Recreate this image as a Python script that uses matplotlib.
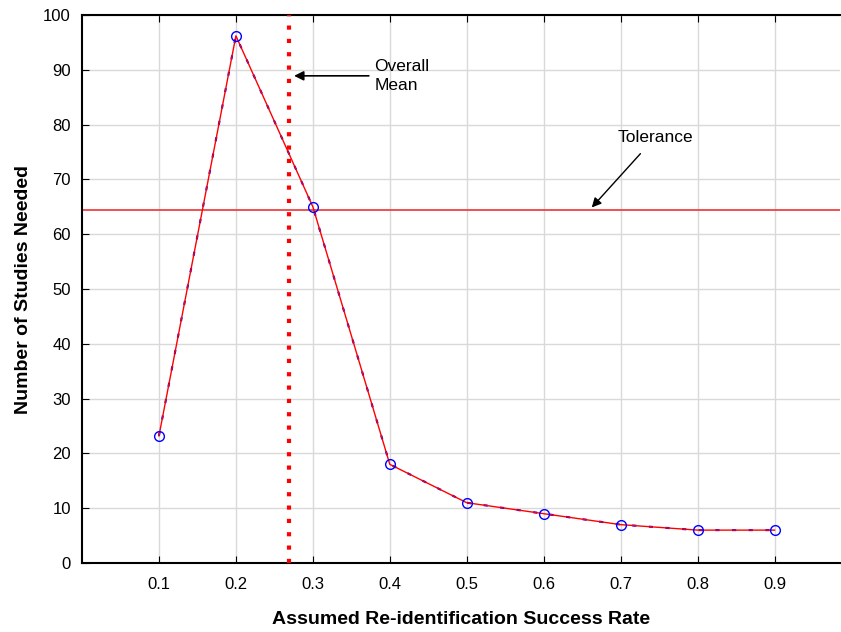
import matplotlib
matplotlib.use("Agg")
import matplotlib.pyplot as plt

rates = [0.1, 0.2, 0.3, 0.4, 0.5, 0.6, 0.7, 0.8, 0.9]
studies = [23.2, 96.2, 65, 18, 11, 9, 7, 6, 6]
tolerance = 64.5
overall_mean = 0.269
xticks = [0.1, 0.2, 0.3, 0.4, 0.5, 0.6, 0.7, 0.8, 0.9]
yticks = [0, 10, 20, 30, 40, 50, 60, 70, 80, 90, 100]

plt.rcParams['font.family'] = ['Liberation Sans', 'DejaVu Sans']

fig = plt.figure(figsize=(8.41, 6.32), dpi=100)
ax = fig.add_axes([82/841, 69/632, 758/841, 548/632])

ax.grid(True, color='#d9d9d9', linewidth=1)
ax.set_axisbelow(True)

ax.plot(rates, studies, color='blue', linestyle=(0, (2, 6)), linewidth=1.5, zorder=2)
ax.plot(rates, studies, color='red', linewidth=1.0, zorder=3)
ax.plot(rates, studies, linestyle='none', marker='o', markersize=7,
        markerfacecolor='none', markeredgecolor='blue', markeredgewidth=1, zorder=4)

ax.axhline(tolerance, color='#ee3333', linewidth=1.2, zorder=2)
ax.axvline(overall_mean, color='red', linestyle=(0, (1, 2.2)), linewidth=3, zorder=3)

ax.annotate('Overall\nMean', xy=(overall_mean + 0.003, 88.9), xytext=(0.380, 88.9),
            fontsize=12.5, va='center', ha='left', linespacing=1.35,
            arrowprops=dict(arrowstyle='-|>', color='black', lw=1.2, mutation_scale=14,
                            shrinkA=2))
ax.annotate('Tolerance', xy=(0.660, tolerance), xytext=(0.745, 77.7),
            fontsize=12.5, va='center', ha='center',
            arrowprops=dict(arrowstyle='-|>', color='black', lw=1.0, mutation_scale=14,
                            shrinkA=6))

ax.set_xlim(0, 0.985)
ax.set_ylim(0, 100)
ax.set_xticks(xticks)
ax.set_xticklabels([f"{v:.1f}" for v in xticks])
ax.set_yticks(yticks)
ax.tick_params(direction='in', length=5, labelsize=12, top=True, pad=10)
ax.tick_params(axis='y', pad=8)

for s in ['left', 'bottom', 'top']:
    ax.spines[s].set_linewidth(1.5)
ax.spines['right'].set_visible(False)

ax.set_xlabel('Assumed Re-identification Success Rate', fontsize=14, fontweight='bold', labelpad=14)
ax.set_ylabel('Number of Studies Needed', fontsize=14, fontweight='bold', labelpad=8)

fig.savefig('out.png', dpi=100)
